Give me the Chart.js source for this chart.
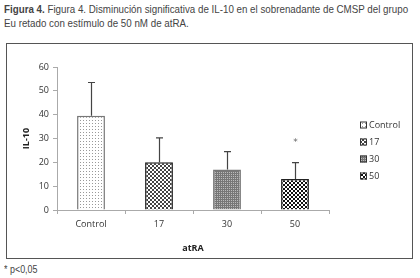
<!DOCTYPE html>
<html>
<head>
<meta charset="utf-8">
<script src="https://cdn.jsdelivr.net/npm/chart.js@4/dist/chart.umd.min.js"></script>
<style>
  body { margin: 0; background: #fff; width: 420px; height: 278px; position: relative; overflow: hidden; }
  .cap { position: absolute; left: 4px; font-family: "Liberation Sans", sans-serif; font-size: 11.5px; color: #444; white-space: nowrap; transform: scaleX(0.85); transform-origin: left top; }
  #box { position: absolute; left: 6px; top: 43px; width: 405px; height: 214px; border: 1px solid #555; }
  #box canvas { display: block; }
</style>
</head>
<body>
<div class="cap" style="top:3px"><b>Figura 4.</b> Figura 4. Disminución significativa de IL-10 en el sobrenadante de CMSP del grupo</div>
<div class="cap" style="top:17px">Eu retado con estímulo de 50 nM de atRA.</div>
<div id="box"><canvas id="myChart" width="405" height="214"></canvas></div>
<div class="cap" style="top:263px; font-size:10.5px">* p&lt;0,05</div>
<script>
var categories = ['Control', '17', '30', '50'];
var means = [39.5, 20, 17, 13];
var errorTop = [53.5, 30.3, 24.5, 19.9];
var marks = ['', '', '', '*'];
var yTicks = [0, 10, 20, 30, 40, 50, 60];

function makePattern(size, draw) {
    var c = document.createElement('canvas');
    c.width = size; c.height = size;
    var g = c.getContext('2d');
    g.fillStyle = '#fff';
    g.fillRect(0, 0, size, size);
    draw(g);
    return document.getElementById('myChart').getContext('2d').createPattern(c, 'repeat');
}

var patterns = [
    makePattern(3, function (g) { g.fillStyle = '#999'; g.fillRect(1, 1, 1, 1); }),
    makePattern(4, function (g) {
        g.fillStyle = '#444';
        g.fillRect(0, 0, 1, 1); g.fillRect(1, 1, 1, 1); g.fillRect(2, 2, 1, 1); g.fillRect(3, 3, 1, 1);
        g.fillRect(3, 0, 1, 1); g.fillRect(2, 1, 1, 1); g.fillRect(1, 2, 1, 1); g.fillRect(0, 3, 1, 1);
    }),
    makePattern(2, function (g) { g.fillStyle = '#777'; g.fillRect(0, 0, 2, 2); g.fillStyle = '#bbb'; g.fillRect(0, 0, 1, 1); }),
    makePattern(4, function (g) { g.fillStyle = '#111'; g.fillRect(0, 0, 2, 2); g.fillRect(2, 2, 2, 2); })
];
var borders = ['#777', '#222', '#777', '#222'];

var extras = {
    id: 'extras',
    afterDatasetsDraw: function (chart) {
        var ctx = chart.ctx;
        var meta = chart.getDatasetMeta(0);
        var y = chart.scales.y;
        ctx.save();
        ctx.strokeStyle = '#444';
        ctx.lineWidth = 1.2;
        meta.data.forEach(function (bar, i) {
            var x = Math.round(bar.x) + 0.5;
            var yt = y.getPixelForValue(errorTop[i]);
            ctx.beginPath();
            ctx.moveTo(x, bar.y);
            ctx.lineTo(x, yt);
            ctx.moveTo(x - 3.5, yt);
            ctx.lineTo(x + 3.5, yt);
            ctx.stroke();
            if (marks[i]) {
                ctx.fillStyle = '#666';
                ctx.font = '9px "DejaVu Sans"';
                ctx.textAlign = 'center';
                ctx.textBaseline = 'middle';
                ctx.fillText(marks[i], x, yt - 20);
            }
        });
        // legend
        var lx = 353, ly = 81;
        ctx.font = '9px "Open Sans", sans-serif';
        ctx.textAlign = 'left';
        ctx.textBaseline = 'middle';
        categories.forEach(function (c, i) {
            var yy = ly + i * 17;
            ctx.fillStyle = patterns[i];
            ctx.fillRect(lx, yy - 3.5, 7, 7);
            ctx.strokeStyle = '#333';
            ctx.lineWidth = 1;
            ctx.strokeRect(lx + 0.5, yy - 3, 6, 6);
            ctx.fillStyle = '#333';
            ctx.fillText(c, lx + 9, yy);
        });
        ctx.restore();
    }
};

var ctx = document.getElementById('myChart').getContext('2d');
var chart = new Chart(ctx, {
    type: 'bar',
    data: {
        labels: categories,
        datasets: [{
            label: 'IL-10',
            data: means,
            backgroundColor: patterns,
            borderColor: borders,
            borderWidth: 1.5,
            categoryPercentage: 1,
            barPercentage: 0.41
        }]
    },
    options: {
        responsive: false,
        animation: false,
        layout: { padding: { left: 10, top: 23, right: 83, bottom: 0 } },
        plugins: { legend: { display: false }, tooltip: { enabled: false } },
        scales: {
            x: {
                grid: { drawOnChartArea: false, tickLength: 4, color: '#aaa' },
                border: { color: '#aaa' },
                ticks: { color: '#333', font: { family: 'Open Sans', size: 9 }, padding: 5 },
                title: { display: true, text: 'atRA', color: '#222', font: { family: 'Open Sans', size: 9, weight: 'bold' }, padding: { top: 6 } },
                afterFit: function (s) { s.height = 48; }
            },
            y: {
                min: 0, max: 60,
                afterBuildTicks: function (s) { s.ticks = yTicks.map(function (v) { return { value: v }; }); },
                grid: { drawOnChartArea: false, tickLength: 4, color: '#aaa' },
                border: { color: '#aaa' },
                ticks: { color: '#333', font: { family: 'Open Sans', size: 9 }, padding: 4 },
                title: { display: true, text: 'IL-10', color: '#222', font: { family: 'Open Sans', size: 9, weight: 'bold' } },
                afterFit: function (s) { s.width = 40; }
            }
        }
    },
    plugins: [extras]
});
</script>
</body>
</html>
